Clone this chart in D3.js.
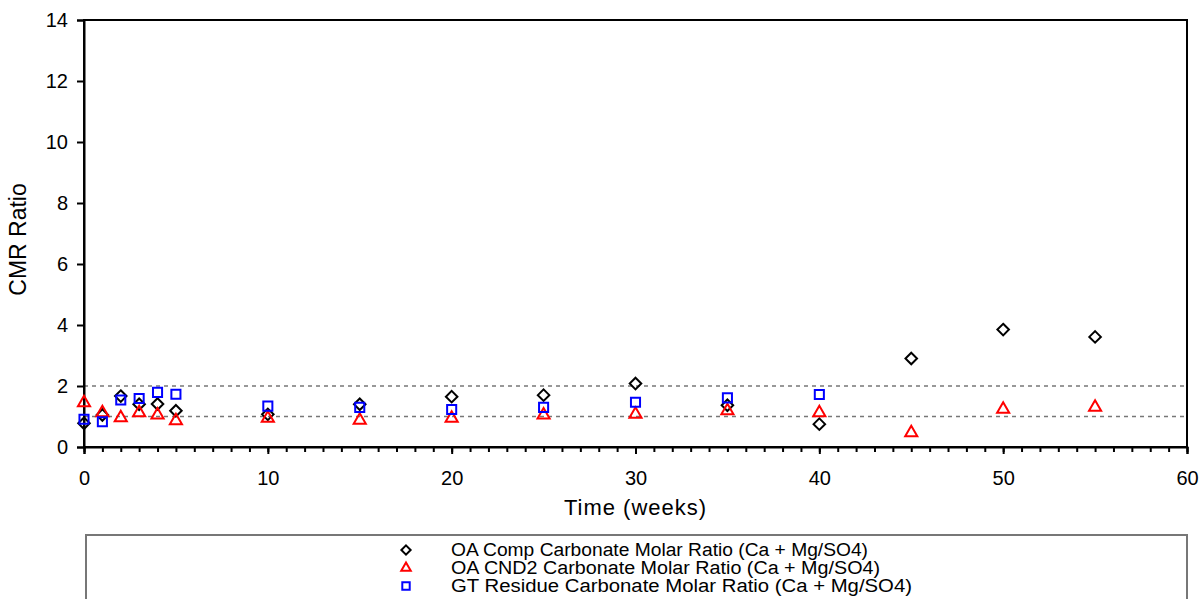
<!DOCTYPE html>
<html>
<head>
<meta charset="utf-8">
<script src="https://cdn.jsdelivr.net/npm/d3@7"></script>
<style>
  body { margin: 0; background: #fff; }
  text { font-family: "Liberation Sans", Arial, sans-serif; }
</style>
</head>
<body>
<div id="chart"></div>
<script>
// weeks sampled
var weeksAll = [0, 1, 2, 3, 4, 5, 10, 15, 20, 25, 30, 35, 40, 45, 50, 55];
var weeksGT = [0, 1, 2, 3, 4, 5, 10, 15, 20, 25, 30, 35, 40];

var oaComp = [0.78, 1.05, 1.67, 1.40, 1.41, 1.19, 1.07, 1.40, 1.65, 1.70, 2.08, 1.37, 0.75, 2.90, 3.85, 3.61];
var oaCnd2 = [1.45, 1.12, 0.96, 1.12, 1.05, 0.86, 0.94, 0.88, 0.94, 1.05, 1.07, 1.19, 1.12, 0.47, 1.24, 1.30];
var gtResidue = [0.91, 0.83, 1.54, 1.59, 1.79, 1.73, 1.34, 1.30, 1.23, 1.30, 1.47, 1.61, 1.72];

var refLines = [1, 2];
var legendLabels = [
  "OA Comp Carbonate Molar Ratio (Ca + Mg/SO4)",
  "OA CND2 Carbonate Molar Ratio (Ca + Mg/SO4)",
  "GT Residue Carbonate Molar Ratio (Ca + Mg/SO4)"
];

var width = 1201, height = 599;
var margin = {top: 20, right: 14, bottom: 152, left: 84};

var svg = d3.select("#chart").append("svg")
    .attr("width", width)
    .attr("height", height);

var x = d3.scaleLinear()
    .domain([0, 60])
    .range([margin.left, width - margin.right]);

var y = d3.scaleLinear()
    .domain([0, 14])
    .range([height - margin.bottom, margin.top]);

// plot frame
svg.append("rect")
    .attr("x", x(0))
    .attr("y", y(14))
    .attr("width", x(60) - x(0))
    .attr("height", y(0) - y(14))
    .attr("fill", "none")
    .attr("stroke", "#000")
    .attr("stroke-width", 2);

// dashed reference lines
svg.selectAll(".ref")
    .data(refLines)
    .enter().append("line")
    .attr("class", "ref")
    .attr("x1", x(0))
    .attr("x2", x(60))
    .attr("y1", function(d){ return y(d); })
    .attr("y2", function(d){ return y(d); })
    .attr("stroke", "#777")
    .attr("stroke-width", 1.5)
    .attr("stroke-dasharray", "4,4");

// x axis: minor ticks every week
var xMinor = svg.append("g")
    .attr("transform", "translate(0," + y(0) + ")")
    .call(d3.axisBottom(x).ticks(60).tickSize(5).tickFormat(""));
xMinor.select(".domain").remove();
xMinor.selectAll("line").attr("stroke-width", 2);

var xAxis = svg.append("g")
    .attr("transform", "translate(0," + y(0) + ")")
    .call(d3.axisBottom(x).tickValues(d3.range(0, 61, 10)).tickSize(7).tickPadding(17));
xAxis.select(".domain").attr("stroke-width", 2);
xAxis.selectAll("line").attr("stroke-width", 2);
xAxis.selectAll("text").style("font-size", "20px").attr("fill", "#000");

var yAxis = svg.append("g")
    .attr("transform", "translate(" + x(0) + ",0)")
    .call(d3.axisLeft(y).tickValues(d3.range(0, 15, 2)).tickSize(7).tickPadding(9));
yAxis.select(".domain").attr("stroke-width", 2);
yAxis.selectAll("line").attr("stroke-width", 2);
yAxis.selectAll("text").style("font-size", "20px").attr("fill", "#000");

// axis titles
svg.append("text")
    .attr("x", (x(0) + x(60)) / 2)
    .attr("y", 515)
    .attr("text-anchor", "middle")
    .style("font-size", "22px")
    .style("letter-spacing", "1px")
    .text("Time (weeks)");

svg.append("text")
    .attr("transform", "translate(26," + (y(7) + 6) + ") rotate(-90)")
    .attr("text-anchor", "middle")
    .style("font-size", "23px")
    .text("CMR Ratio");

// marker shapes
var diamond = d3.symbol().type(d3.symbolDiamond2).size(85);
var triangle = d3.symbol().type(d3.symbolTriangle2).size(105);
var square = d3.symbol().type(d3.symbolSquare2).size(105);

function drawSeries(cls, xs, ys, shape, color){
    svg.selectAll("." + cls)
        .data(ys)
        .enter().append("path")
        .attr("class", cls)
        .attr("d", shape)
        .attr("transform", function(d, i){ return "translate(" + x(xs[i]) + "," + y(d) + ")"; })
        .attr("fill", "none")
        .attr("stroke", color)
        .attr("stroke-width", 2);
}

drawSeries("comp", weeksAll, oaComp, diamond, "#000");
drawSeries("cnd2", weeksAll, oaCnd2, triangle, "#ff0000");
drawSeries("gt", weeksGT, gtResidue, square, "#0000ff");

// legend
svg.append("rect")
    .attr("x", 86)
    .attr("y", 535)
    .attr("width", 1101)
    .attr("height", 80)
    .attr("fill", "none")
    .attr("stroke", "#777")
    .attr("stroke-width", 2);

var legendShapes = [
    {shape: d3.symbol().type(d3.symbolDiamond2).size(55), color: "#000"},
    {shape: d3.symbol().type(d3.symbolTriangle2).size(65), color: "#ff0000"},
    {shape: d3.symbol().type(d3.symbolSquare2).size(70), color: "#0000ff"}
];

var leg = svg.selectAll(".leg")
    .data(legendLabels)
    .enter().append("g")
    .attr("class", "leg")
    .attr("transform", function(d, i){ return "translate(0," + (550 + i * 18) + ")"; });

leg.append("path")
    .attr("d", function(d, i){ return legendShapes[i].shape(); })
    .attr("transform", "translate(406,0)")
    .attr("fill", "none")
    .attr("stroke", function(d, i){ return legendShapes[i].color; })
    .attr("stroke-width", 2);

leg.append("text")
    .attr("x", 451)
    .attr("y", 6)
    .style("font-size", "18px")
    .attr("textLength", function(d, i){ return [417, 429, 461][i]; })
    .attr("lengthAdjust", "spacingAndGlyphs")
    .text(function(d){ return d; });
</script>
</body>
</html>
